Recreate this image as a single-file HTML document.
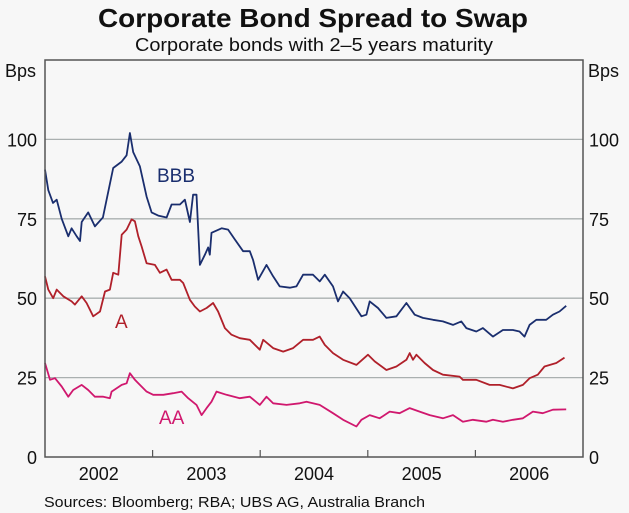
<!DOCTYPE html>
<html><head><meta charset="utf-8"><style>
body{margin:0;background:#f7f7f7;}
svg{display:block;font-family:"Liberation Sans",Arial,sans-serif;}
</style></head><body>
<svg id="chart" width="629" height="513" viewBox="0 0 629 513">
<rect x="0" y="0" width="629" height="513" fill="#f7f7f7"/>
<text x="313" y="27" text-anchor="middle" font-size="26" font-weight="bold" fill="#111" textLength="430" lengthAdjust="spacingAndGlyphs">Corporate Bond Spread to Swap</text>
<text x="314" y="51" text-anchor="middle" font-size="18" fill="#111" textLength="358" lengthAdjust="spacingAndGlyphs">Corporate bonds with 2–5 years maturity</text>
<text x="5" y="77" font-size="18" fill="#111">Bps</text>
<text x="588" y="77" font-size="18" fill="#111">Bps</text>
<g id="grid"></g>
<g id="lines"></g>
<rect x="45" y="60" width="538" height="397" fill="none" stroke="#555" stroke-width="1.5"/>
<g id="xaxis"></g>
<text x="157" y="182" font-size="19" fill="#1a2e6e">BBB</text>
<text x="115" y="328" font-size="19" fill="#b0202a">A</text>
<text x="159" y="424" font-size="19" fill="#d0186e">AA</text>
<text x="44" y="507" font-size="15" fill="#111" textLength="381" lengthAdjust="spacingAndGlyphs">Sources: Bloomberg; RBA; UBS AG, Australia Branch</text>
</svg>
<script>
// months since Jan 2002, values in basis points
const bbbMonths=[0,0.37,0.89,1.3,1.86,2.6,2.97,3.53,3.9,4.09,4.82,5.57,6.32,6.46,6.87,7.61,8.55,9.1,9.47,9.84,10.58,11.33,11.89,12.62,13.56,14.12,15.04,15.6,16.16,16.52,16.9,17.27,17.83,18.2,18.38,18.57,19.69,20.42,21.17,22.09,22.84,23.21,23.77,24.7,25.44,26.18,27.3,28.04,28.78,29.89,30.64,31.2,32.12,32.68,33.24,33.98,35.29,35.84,36.21,37.14,38.07,39.19,40.3,41.23,42.15,43.27,44.38,45.5,46.43,46.98,48.1,48.84,49.95,51.07,52.18,52.92,53.48,54.04,54.79,55.9,56.64,57.38,58.13];
const bbbValues=[90.5,84,80,81,75,69.5,72,69.5,68,74,77,72.6,75,75.4,81,91,93,95,102,96,91.5,82,77,76,75.4,79.5,79.5,81,74,82.6,82.6,60.5,63.7,66,63.7,70.6,72,71.6,68.5,64.8,64.8,62,55.8,60.5,56.9,53.7,53.3,53.7,57.4,57.4,55.3,57.4,53.7,49,52.1,50,44.3,44.8,49,46.9,43.8,44.3,48.5,44.8,43.8,43.2,42.7,41.6,42.7,40.6,39.5,40.6,37.9,40,40,39.5,37.9,41.6,43.2,43.2,44.8,45.8,47.6];
const aMonths=[0,0.37,0.92,1.3,2.04,2.97,3.34,4.09,4.64,5.38,6.13,6.69,7.24,7.61,8.17,8.55,9.1,9.66,10.03,10.4,10.77,11.33,12.26,12.81,13.56,14.12,15.04,15.41,16.16,16.71,17.27,18.02,18.75,19.31,20.06,20.8,21.73,22.84,23.96,24.33,25.44,26.56,27.67,28.78,29.89,30.64,31.2,32.12,33.24,34.73,36.02,36.77,38.07,39.19,40.3,40.67,41.04,41.42,42.34,43.27,44.38,46.24,46.61,48.1,49.58,50.7,52.18,53.3,54.04,54.96,55.71,57.02,57.94];
const aValues=[56.9,52.7,50,52.7,50.6,49,48,50.6,48.5,44.3,45.8,52.1,52.7,58,57.4,70,71.6,74.8,74.2,69.5,66.3,61,60.5,58,59,55.8,55.8,54.8,49.5,47.4,45.8,46.9,48.5,45.8,40.6,38.5,37.4,36.9,33.8,36.9,34.3,33.2,34.3,36.9,36.9,37.9,35.3,32.7,30.6,29,32.2,30.1,27.4,28.5,30.6,32.7,30.6,32.2,29.6,27.4,25.9,25.3,24.3,24.3,22.7,22.7,21.6,22.7,24.8,25.9,28.5,29.6,31.3];
const aaMonths=[0,0.56,1.11,1.86,2.6,3.15,4.09,4.82,5.57,6.5,7.24,7.43,8.55,9.1,9.47,10.03,10.58,11.33,12.07,13.19,14.3,15.23,15.97,16.9,17.46,18.02,18.57,19.13,20.24,21.73,22.84,23.96,24.7,25.44,26.93,28.41,29.16,30.64,32.12,33.24,34.73,35.29,36.21,37.33,38.44,39.55,40.67,41.78,42.9,44.38,45.5,46.61,47.72,49.21,49.95,51.07,52.18,53.3,54.41,55.52,56.64,58.13];
const aaValues=[29.6,24.3,24.8,22.2,19,21.1,22.7,21.1,19,19,18.5,20.6,22.7,23.2,26.4,24.3,22.7,20.6,19.6,19.6,20.1,20.6,18.5,16.4,13.2,15.4,17.4,20.6,19.6,18.5,19,16.4,19,16.9,16.4,16.9,17.4,16.4,13.8,11.7,9.6,11.7,13.2,12.2,14.3,13.8,15.4,14.3,13.2,12.2,13.2,11.1,11.7,11.1,11.7,11.1,11.7,12.2,14.3,13.8,14.9,15];
const yTicks=[0,25,50,75,100];
const years=["2002","2003","2004","2005","2006"];

const NS="http://www.w3.org/2000/svg";
const X0=45,X1=583,Y0=457,Y1=60,YMAX=125,NMONTHS=60;
function xScale(m){return X0+(X1-X0)*m/NMONTHS;}
function yScale(v){return Y0-(Y0-Y1)*v/YMAX;}
function mk(tag,attrs,parent){const e=document.createElementNS(NS,tag);for(const k in attrs)e.setAttribute(k,attrs[k]);parent.appendChild(e);return e;}
const grid=document.getElementById('grid'),lines=document.getElementById('lines'),xaxis=document.getElementById('xaxis');
yTicks.forEach(v=>{
  const y=yScale(v);
  if(v>0){const g=mk('line',{x1:X0,x2:X1,y1:y,y2:y,stroke:'#aab0b0','stroke-width':1.3},grid);
  
  }
  const l=mk('text',{x:37,y:y+7,'text-anchor':'end','font-size':18,fill:'#111'},grid);l.textContent=v;
  
  
  const r=mk('text',{x:589,y:y+7,'text-anchor':'start','font-size':18,fill:'#111'},grid);r.textContent=v;
  
  
});
years.forEach((yr,i)=>{
  if(i>0){const t=mk('line',{x1:xScale(i*12),x2:xScale(i*12),y1:Y0,y2:Y0-7,stroke:'#555','stroke-width':1.2},xaxis);
  
  }
  const l=mk('text',{x:xScale(i*12+6),y:480,'text-anchor':'middle','font-size':18,fill:'#111'},xaxis);l.textContent=yr;
  
  
});
function drawSeries(ms,vs,color,name){
  const d=ms.map((m,i)=>(i?'L':'M')+xScale(m).toFixed(1)+','+yScale(vs[i]).toFixed(1)).join(' ');
  const p=mk('path',{d:d,fill:'none',stroke:color,'stroke-width':1.8,'stroke-linejoin':'round'},lines);
  
  
}
drawSeries(aaMonths,aaValues,'#d0186e','series-aa-line');
drawSeries(aMonths,aValues,'#b0202a','series-a-line');
drawSeries(bbbMonths,bbbValues,'#1a2e6e','series-bbb-line');
</script>
</body></html>
